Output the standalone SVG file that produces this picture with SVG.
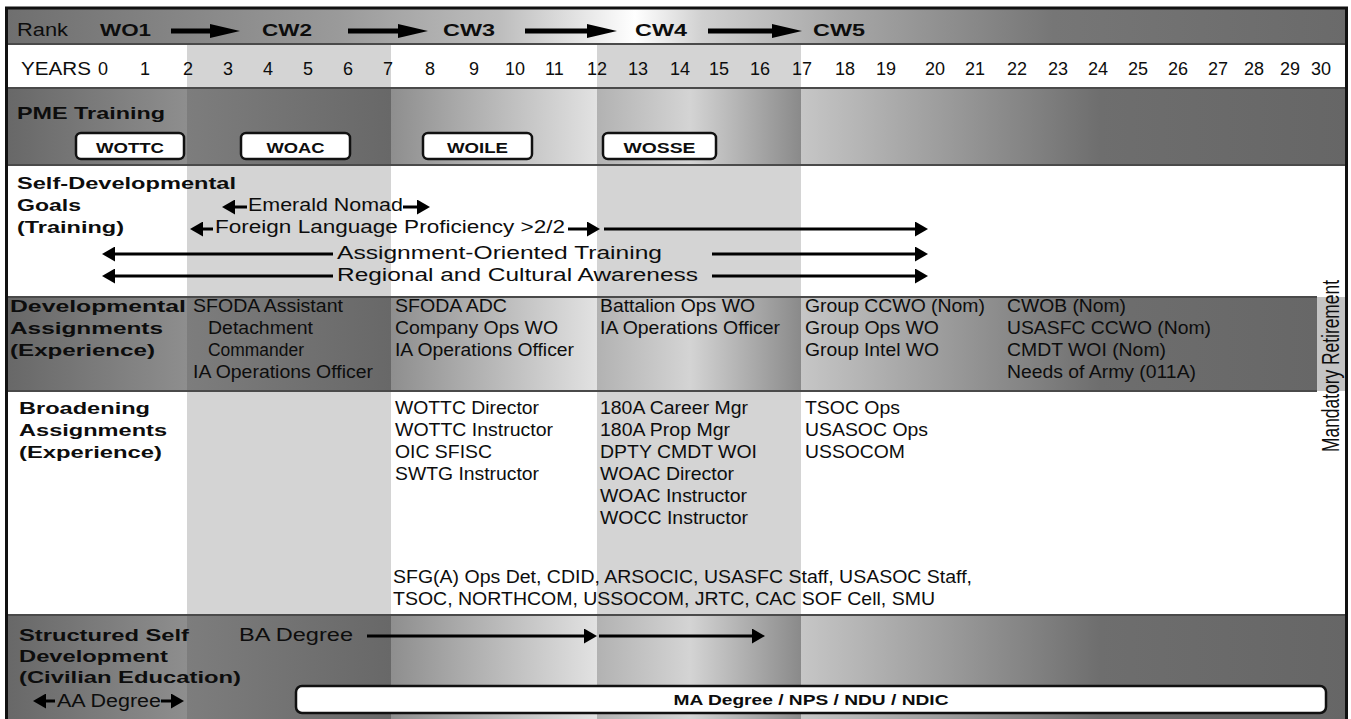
<svg xmlns="http://www.w3.org/2000/svg" width="1351" height="719" viewBox="0 0 1351 719">
<style>
text{font-family:"Liberation Sans",Arial,Helvetica,sans-serif;fill:#0d0d0d}
.r{font-size:17.5px}
.b{font-size:17px;font-weight:bold}
.rk{font-size:17px;font-weight:bold}
.yr{font-size:18px}
.bx{font-size:14px;font-weight:bold}
.ma{font-size:15px;font-weight:bold}
.box{fill:#fff;stroke:#111;stroke-width:2.5}
.band{fill:#d4d4d4}
.sep{stroke:#4a4a4a;stroke-width:2}
.ar{stroke:#000;stroke-width:3;fill:none;marker-end:url(#ah)}
.arR{stroke:#000;stroke-width:5;fill:none;marker-end:url(#ahR)}
</style>
<defs>
<linearGradient id="dk" gradientUnits="userSpaceOnUse" x1="0" y1="0" x2="1351" y2="0">
<stop offset="0.006" stop-color="#686868"/>
<stop offset="0.1384" stop-color="#8e8e8e"/>
<stop offset="0.1384" stop-color="#7d7d7d"/>
<stop offset="0.2894" stop-color="#686868"/>
<stop offset="0.2894" stop-color="#8e8e8e"/>
<stop offset="0.4419" stop-color="#e2e2e2"/>
<stop offset="0.4419" stop-color="#b2b2b2"/>
<stop offset="0.5107" stop-color="#d4d4d4"/>
<stop offset="0.5929" stop-color="#8a8a8a"/>
<stop offset="0.5929" stop-color="#c6c6c6"/>
<stop offset="0.8142" stop-color="#6e6e6e"/>
<stop offset="1" stop-color="#666666"/>
</linearGradient>
<linearGradient id="rkg" gradientUnits="userSpaceOnUse" x1="0" y1="0" x2="1351" y2="0">
<stop offset="0" stop-color="#6e6e6e"/>
<stop offset="0.25" stop-color="#9a9a9a"/>
<stop offset="0.37" stop-color="#bdbdbd"/>
<stop offset="0.45" stop-color="#f2f2f2"/>
<stop offset="0.47" stop-color="#ffffff"/>
<stop offset="0.52" stop-color="#d0d0d0"/>
<stop offset="0.62" stop-color="#a8a8a8"/>
<stop offset="0.78" stop-color="#767676"/>
<stop offset="1" stop-color="#6a6a6a"/>
</linearGradient>
<marker id="ah" markerUnits="userSpaceOnUse" markerWidth="13" markerHeight="15" refX="3" refY="7.5" orient="auto" viewBox="0 0 13 15">
<path d="M0,0 L13,7.5 L0,15 z" fill="#000"/>
</marker>
<marker id="ahR" markerUnits="userSpaceOnUse" markerWidth="30" markerHeight="14" refX="3" refY="7" orient="auto" viewBox="0 0 30 14">
<path d="M0,0 L30,7 L0,14 z" fill="#000"/>
</marker>
</defs>

<g id="background">
<rect x="0" y="0" width="1351" height="719" fill="#fff"/>
<rect x="8" y="9" width="1338" height="35" fill="url(#rkg)"/>
<rect x="8" y="44" width="1338" height="44" fill="#fff"/>
<rect class="band" x="187" y="44" width="204" height="44"/>
<rect class="band" x="597" y="44" width="204" height="44"/>
<rect x="8" y="88" width="1338" height="77" fill="url(#dk)"/>
<rect x="8" y="165" width="1338" height="132" fill="#fff"/>
<rect class="band" x="187" y="165" width="204" height="132"/>
<rect class="band" x="597" y="165" width="204" height="132"/>
<rect x="8" y="297" width="1338" height="94" fill="url(#dk)"/>
<rect x="1317" y="297" width="29" height="94" fill="#c4c4c4"/>
<rect x="8" y="391" width="1338" height="224" fill="#fff"/>
<rect class="band" x="187" y="391" width="204" height="224"/>
<rect class="band" x="597" y="391" width="204" height="224"/>
<rect x="8" y="615" width="1338" height="104" fill="url(#dk)"/>
<line class="sep" x1="8" y1="44" x2="1346" y2="44"/>
<line class="sep" x1="8" y1="88" x2="1346" y2="88"/>
<line class="sep" x1="8" y1="165" x2="1346" y2="165"/>
<line class="sep" x1="8" y1="297" x2="1317" y2="297"/>
<line class="sep" x1="8" y1="391" x2="1317" y2="391"/>
<line class="sep" x1="8" y1="615" x2="1346" y2="615"/>
<path d="M6.5,719 V8 H1346.5 V719" fill="none" stroke="#111" stroke-width="3"/>
</g>

<g id="rank-row">
<text class="r" x="17" y="36" textLength="51" lengthAdjust="spacingAndGlyphs">Rank</text>
<text class="rk" x="100" y="36" textLength="51" lengthAdjust="spacingAndGlyphs">WO1</text>
<text class="rk" x="262" y="36" textLength="50" lengthAdjust="spacingAndGlyphs">CW2</text>
<text class="rk" x="443" y="36" textLength="52" lengthAdjust="spacingAndGlyphs">CW3</text>
<text class="rk" x="635" y="36" textLength="52" lengthAdjust="spacingAndGlyphs">CW4</text>
<text class="rk" x="813" y="36" textLength="52" lengthAdjust="spacingAndGlyphs">CW5</text>
</g>

<g id="years-row">
<text class="yr" x="21" y="75" textLength="70" lengthAdjust="spacingAndGlyphs">YEARS</text>
<text class="yr" x="98" y="75">0</text>
<text class="yr" x="140" y="75">1</text>
<text class="yr" x="183" y="75">2</text>
<text class="yr" x="223" y="75">3</text>
<text class="yr" x="263" y="75">4</text>
<text class="yr" x="303" y="75">5</text>
<text class="yr" x="343" y="75">6</text>
<text class="yr" x="383" y="75">7</text>
<text class="yr" x="425" y="75">8</text>
<text class="yr" x="469" y="75">9</text>
<text class="yr" x="505" y="75">10</text>
<text class="yr" x="545" y="75">11</text>
<text class="yr" x="587" y="75">12</text>
<text class="yr" x="628" y="75">13</text>
<text class="yr" x="670" y="75">14</text>
<text class="yr" x="709" y="75">15</text>
<text class="yr" x="750" y="75">16</text>
<text class="yr" x="792" y="75">17</text>
<text class="yr" x="835" y="75">18</text>
<text class="yr" x="876" y="75">19</text>
<text class="yr" x="925" y="75">20</text>
<text class="yr" x="965" y="75">21</text>
<text class="yr" x="1007" y="75">22</text>
<text class="yr" x="1048" y="75">23</text>
<text class="yr" x="1088" y="75">24</text>
<text class="yr" x="1128" y="75">25</text>
<text class="yr" x="1168" y="75">26</text>
<text class="yr" x="1208" y="75">27</text>
<text class="yr" x="1244" y="75">28</text>
<text class="yr" x="1280" y="75">29</text>
<text class="yr" x="1311" y="75">30</text>
</g>

<g id="pme-training">
<text class="b" x="17" y="119" textLength="148" lengthAdjust="spacingAndGlyphs">PME Training</text>
</g>
<g id="box-wottc">
<rect class="box" x="76" y="133" width="108" height="26" rx="5"/>
<text class="bx" x="130" y="153" text-anchor="middle" textLength="68" lengthAdjust="spacingAndGlyphs">WOTTC</text>
</g>
<g id="box-woac">
<rect class="box" x="241" y="133" width="109" height="26" rx="5"/>
<text class="bx" x="295.5" y="153" text-anchor="middle" textLength="58" lengthAdjust="spacingAndGlyphs">WOAC</text>
</g>
<g id="box-woile">
<rect class="box" x="423" y="133" width="109" height="26" rx="5"/>
<text class="bx" x="477.5" y="153" text-anchor="middle" textLength="61" lengthAdjust="spacingAndGlyphs">WOILE</text>
</g>
<g id="box-wosse">
<rect class="box" x="603" y="133" width="113" height="26" rx="5"/>
<text class="bx" x="659.5" y="153" text-anchor="middle" textLength="72" lengthAdjust="spacingAndGlyphs">WOSSE</text>
</g>

<g id="self-dev-goals">
<text class="b" x="17" y="189" textLength="219" lengthAdjust="spacingAndGlyphs">Self-Developmental</text>
<text class="b" x="17" y="211" textLength="64" lengthAdjust="spacingAndGlyphs">Goals</text>
<text class="b" x="17" y="233" textLength="107" lengthAdjust="spacingAndGlyphs">(Training)</text>
<text class="r" x="248" y="211" textLength="155" lengthAdjust="spacingAndGlyphs">Emerald Nomad</text>
<text class="r" x="215" y="233" textLength="350" lengthAdjust="spacingAndGlyphs">Foreign Language Proficiency &gt;2/2</text>
<text class="r" x="337" y="259" textLength="325" lengthAdjust="spacingAndGlyphs">Assignment-Oriented Training</text>
<text class="r" x="337" y="281" textLength="361" lengthAdjust="spacingAndGlyphs">Regional and Cultural Awareness</text>
</g>

<g id="developmental-assignments">
<text class="b" x="10" y="312" textLength="176" lengthAdjust="spacingAndGlyphs">Developmental</text>
<text class="b" x="10" y="334" textLength="153" lengthAdjust="spacingAndGlyphs">Assignments</text>
<text class="b" x="10" y="356" textLength="145" lengthAdjust="spacingAndGlyphs">(Experience)</text>
<text class="r" x="193" y="312" textLength="150" lengthAdjust="spacingAndGlyphs">SFODA Assistant</text>
<text class="r" x="208" y="334" textLength="105" lengthAdjust="spacingAndGlyphs">Detachment</text>
<text class="r" x="208" y="356" textLength="96" lengthAdjust="spacingAndGlyphs">Commander</text>
<text class="r" x="193" y="378" textLength="180" lengthAdjust="spacingAndGlyphs">IA Operations Officer</text>
<text class="r" x="395" y="312" textLength="112" lengthAdjust="spacingAndGlyphs">SFODA ADC</text>
<text class="r" x="395" y="334" textLength="163" lengthAdjust="spacingAndGlyphs">Company Ops WO</text>
<text class="r" x="395" y="356" textLength="179" lengthAdjust="spacingAndGlyphs">IA Operations Officer</text>
<text class="r" x="600" y="312" textLength="155" lengthAdjust="spacingAndGlyphs">Battalion Ops WO</text>
<text class="r" x="600" y="334" textLength="180" lengthAdjust="spacingAndGlyphs">IA Operations Officer</text>
<text class="r" x="805" y="312" textLength="180" lengthAdjust="spacingAndGlyphs">Group CCWO (Nom)</text>
<text class="r" x="805" y="334" textLength="134" lengthAdjust="spacingAndGlyphs">Group Ops WO</text>
<text class="r" x="805" y="356" textLength="134" lengthAdjust="spacingAndGlyphs">Group Intel WO</text>
<text class="r" x="1007" y="312" textLength="119" lengthAdjust="spacingAndGlyphs">CWOB (Nom)</text>
<text class="r" x="1007" y="334" textLength="204" lengthAdjust="spacingAndGlyphs">USASFC CCWO (Nom)</text>
<text class="r" x="1007" y="356" textLength="159" lengthAdjust="spacingAndGlyphs">CMDT WOI (Nom)</text>
<text class="r" x="1007" y="378" textLength="189" lengthAdjust="spacingAndGlyphs">Needs of Army (011A)</text>
</g>

<g id="mandatory-retirement">
<text class="r" transform="translate(1339,366) rotate(-90) scale(1,1.35)" x="0" y="0" text-anchor="middle" textLength="172" lengthAdjust="spacingAndGlyphs">Mandatory Retirement</text>
</g>

<g id="broadening-assignments">
<text class="b" x="19" y="414" textLength="131" lengthAdjust="spacingAndGlyphs">Broadening</text>
<text class="b" x="19" y="436" textLength="148" lengthAdjust="spacingAndGlyphs">Assignments</text>
<text class="b" x="19" y="458" textLength="143" lengthAdjust="spacingAndGlyphs">(Experience)</text>
<text class="r" x="395" y="414" textLength="144" lengthAdjust="spacingAndGlyphs">WOTTC Director</text>
<text class="r" x="395" y="436" textLength="158" lengthAdjust="spacingAndGlyphs">WOTTC Instructor</text>
<text class="r" x="395" y="458" textLength="97" lengthAdjust="spacingAndGlyphs">OIC SFISC</text>
<text class="r" x="395" y="480" textLength="144" lengthAdjust="spacingAndGlyphs">SWTG Instructor</text>
<text class="r" x="600" y="414" textLength="148" lengthAdjust="spacingAndGlyphs">180A Career Mgr</text>
<text class="r" x="600" y="436" textLength="130" lengthAdjust="spacingAndGlyphs">180A Prop Mgr</text>
<text class="r" x="600" y="458" textLength="157" lengthAdjust="spacingAndGlyphs">DPTY CMDT WOI</text>
<text class="r" x="600" y="480" textLength="134" lengthAdjust="spacingAndGlyphs">WOAC Director</text>
<text class="r" x="600" y="502" textLength="147" lengthAdjust="spacingAndGlyphs">WOAC Instructor</text>
<text class="r" x="600" y="524" textLength="148" lengthAdjust="spacingAndGlyphs">WOCC Instructor</text>
<text class="r" x="805" y="414" textLength="95" lengthAdjust="spacingAndGlyphs">TSOC Ops</text>
<text class="r" x="805" y="436" textLength="123" lengthAdjust="spacingAndGlyphs">USASOC Ops</text>
<text class="r" x="805" y="458" textLength="100" lengthAdjust="spacingAndGlyphs">USSOCOM</text>
<text class="r" x="393" y="583" textLength="579" lengthAdjust="spacingAndGlyphs">SFG(A) Ops Det, CDID, ARSOCIC, USASFC Staff, USASOC Staff,</text>
<text class="r" x="393" y="605" textLength="542" lengthAdjust="spacingAndGlyphs">TSOC, NORTHCOM, USSOCOM, JRTC, CAC SOF Cell, SMU</text>
</g>

<g id="structured-self-development">
<text class="b" x="19" y="641" textLength="170" lengthAdjust="spacingAndGlyphs">Structured Self</text>
<text class="b" x="19" y="662" textLength="149" lengthAdjust="spacingAndGlyphs">Development</text>
<text class="b" x="19" y="683" textLength="222" lengthAdjust="spacingAndGlyphs">(Civilian Education)</text>
<text class="r" x="239" y="641" textLength="114" lengthAdjust="spacingAndGlyphs">BA Degree</text>
<text class="r" x="57" y="707" textLength="104" lengthAdjust="spacingAndGlyphs">AA Degree</text>
</g>
<g id="box-ma-degree">
<rect class="box" x="296" y="686" width="1030" height="27" rx="6"/>
<text class="ma" x="811" y="705" text-anchor="middle" textLength="275" lengthAdjust="spacingAndGlyphs">MA Degree / NPS / NDU / NDIC</text>
</g>

<g id="connectors">
<line class="arR" x1="171" y1="31" x2="213" y2="31"/>
<line class="arR" x1="348" y1="31" x2="401" y2="31"/>
<line class="arR" x1="525" y1="31" x2="590" y2="31"/>
<line class="arR" x1="708" y1="31" x2="775" y2="31"/>
<line class="ar" x1="247" y1="207" x2="232" y2="207"/>
<line class="ar" x1="403" y1="207" x2="420" y2="207"/>
<line class="ar" x1="213" y1="229" x2="200" y2="229"/>
<line class="ar" x1="568" y1="229" x2="590" y2="229"/>
<line class="ar" x1="604" y1="229" x2="918" y2="229"/>
<line class="ar" x1="333" y1="254" x2="112" y2="254"/>
<line class="ar" x1="712" y1="254" x2="918" y2="254"/>
<line class="ar" x1="333" y1="276" x2="112" y2="276"/>
<line class="ar" x1="712" y1="276" x2="918" y2="276"/>
<line class="ar" x1="367" y1="636" x2="587" y2="636"/>
<line class="ar" x1="599" y1="636" x2="755" y2="636"/>
<line class="ar" x1="55" y1="701" x2="43" y2="701"/>
<line class="ar" x1="161" y1="701" x2="174" y2="701"/>
</g>
</svg>
